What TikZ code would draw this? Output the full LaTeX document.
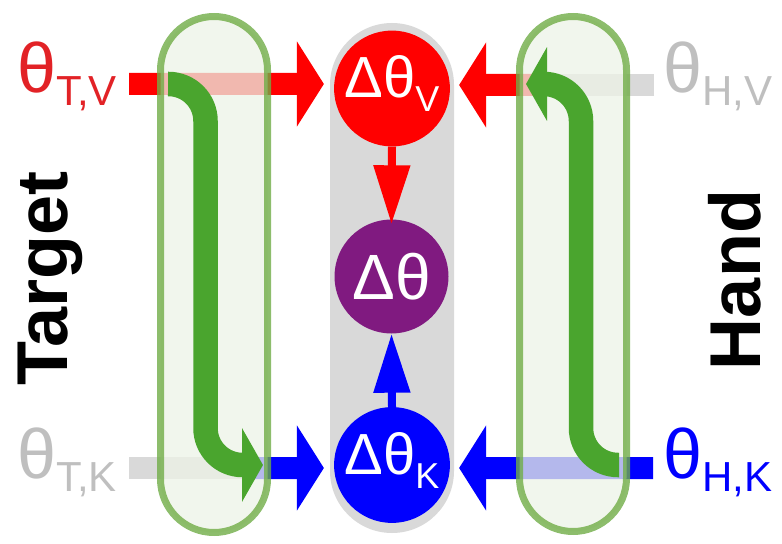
\documentclass[tikz,border=0pt]{standalone}
\usepackage{fontspec}
\setmainfont{Liberation Sans}
\usetikzlibrary{arrows.meta}

\definecolor{txtred}{RGB}{226,34,38}
\definecolor{txtgray}{RGB}{191,191,191}
\definecolor{pureblue}{RGB}{0,0,255}
\definecolor{purered}{RGB}{255,0,0}
\definecolor{barpurple}{RGB}{128,26,128}
\definecolor{capgray}{RGB}{217,217,217}
\definecolor{swapgreen}{RGB}{74,165,46}
\definecolor{capline}{RGB}{112,173,71}
\definecolor{capfill}{RGB}{237,243,231}

\newcommand\lsub[1]{\raisebox{-13bp}{\fontsize{42bp}{42bp}\selectfont #1}}
\newcommand\dsub[1]{\raisebox{-14bp}{\fontsize{36bp}{36bp}\selectfont #1}}

\tikzset{
  anglab/.style={inner sep=0pt, anchor=base west, font=\fontsize{70bp}{70bp}\selectfont},
  sidelab/.style={inner sep=0pt, anchor=base, rotate=90, font=\fontsize{72bp}{72bp}\selectfont\bfseries},
  dnode/.style={circle, inner sep=0pt, minimum size=114bp, text=white, font=\fontsize{58bp}{58bp}\selectfont},
  dsubnode/.style={dnode, text height=43bp, text depth=24bp},
  bar/.style={line width=22bp},
  bigarrow/.style={bar, -{Triangle[length=27bp,width=84bp]}},
  smallarrow/.style={line width=8bp, -{Triangle[length=59bp,width=35bp]}},
  swaparrow/.style={swapgreen, line width=24.5bp, -{Triangle[length=21bp,width=73bp]}},
  capsule/.style={draw=capline, line width=7bp, draw opacity=0.8, fill=capfill, fill opacity=0.76}
}

\begin{document}
\begin{tikzpicture}[x=1bp,y=-1bp]
    \useasboundingbox (0,0) rectangle (782,544);
    % middle column
    \fill [capgray, rounded corners=62bp] (330,23) rectangle (454,533);
    \node [dsubnode, fill=purered] (dv) at (392,88.5) {Δθ\dsub{V}};
    \node [dnode, fill=barpurple, font=\fontsize{64bp}{64bp}\selectfont] (d) at (391.5,276.5) {Δθ};
    \node [dsubnode, fill=pureblue] (dk) at (392,465) {Δθ\dsub{K}};
    \draw [smallarrow, purered] (dv.south) -- ([yshift=-5bp]d.north);
    \draw [smallarrow, pureblue] (dk.north) -- (d.south);

    % angle labels
    \node [anglab, text=txtred] (tv) at (17,93) {θ\lsub{T,V}};
    \node [anglab, text=txtgray] (tk) at (17,478) {θ\lsub{T,K}};
    \node [anglab, text=txtgray] (hv) at (663,93) {θ\lsub{H,V}};
    \node [anglab, text=pureblue] (hk) at (663,478) {θ\lsub{H,K}};
    \node [sidelab] (target) at (67,278.5) {Target};
    \node [sidelab] (hand) at (760,280) {Hand};

    % bar ends
    \coordinate (tv-out) at (129,84);
    \coordinate (tk-out) at (129,468);
    \coordinate (hv-out) at (654,85);
    \coordinate (hk-out) at (653,468);
    \coordinate (tk-join) at (255,468);
    \coordinate (hv-join) at (538,85);
    \coordinate (dv-in) at ([xshift=-10bp,yshift=4.5bp]dv.west);
    \coordinate (dv-back) at ([xshift=9bp,yshift=3.5bp]dv.east);
    \coordinate (dk-in) at ([xshift=-10bp,yshift=-3bp]dk.west);
    \coordinate (dk-back) at ([xshift=9bp,yshift=-3bp]dk.east);

    \draw [bigarrow, purered] (tv-out) -- (dv-in);
    \draw [bar, capgray] (tk-out) -- (tk-join);
    \draw [bigarrow, pureblue] (tk-join) -- (dk-in);
    \draw [bar, capgray] (hv-out) -- (hv-join);
    \draw [bigarrow, purered] (hv-join) -- (dv-back);
    \draw [bigarrow, pureblue] (hk-out) -- (dk-back);

    % target and hand columns
    \path [capsule, rounded corners=53.5bp] (160.5,16.5) rectangle (267.5,532.5);
    \path [capsule, rounded corners=53.5bp] (519.5,16.5) rectangle (626.5,531.5);
    \draw [swaparrow, rounded corners=37bp] (168,84) -- (205.5,84) -- (205.5,465) -- (263,465);
    \draw [swaparrow, rounded corners=37bp] (619,465) -- (581,465) -- (581,84) -- (526,84);
\end{tikzpicture}
\end{document}
